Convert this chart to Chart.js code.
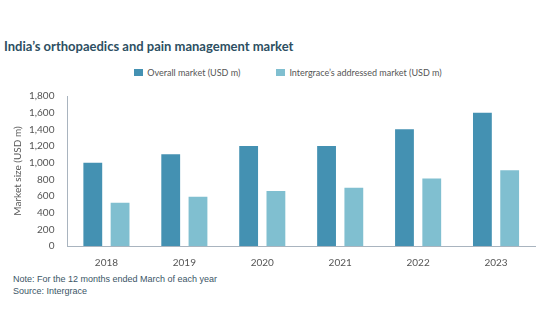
<!DOCTYPE html>
<html>
<head>
<meta charset="utf-8">
<script src="https://cdn.jsdelivr.net/npm/chart.js@4.4.0/dist/chart.umd.min.js"></script>
<style>
    body { margin: 0; background: #fff; }
    #wrap { position: relative; width: 540px; height: 334px; overflow: hidden; }
    #title { position: absolute; left: 4px; top: 38px; font: 700 13px "Lato", sans-serif; color: #2d4f62; white-space: nowrap; }
    #legend { position: absolute; left: 18px; top: 67px; width: 540px; text-align: center; font: 9px "Lato", sans-serif; color: #555; white-space: nowrap; }
    #legend span.item { display: inline-block; margin: 0 18px; }
    #legend span.box { display: inline-block; width: 9px; height: 7px; margin-right: 4px; vertical-align: 0px; }
    #chartBox { position: absolute; left: 0; top: 85px; width: 540px; height: 187px; }
    #notes { position: absolute; left: 13px; top: 273px; font: 9px "Liberation Sans", sans-serif; color: #3b5566; line-height: 12px; }
</style>
</head>
<body>
<div id="wrap">
    <div id="title">India’s orthopaedics and pain management market</div>
    <div id="legend"></div>
    <div id="chartBox"><canvas id="bar"></canvas></div>
    <div id="notes">Note: For the 12 months ended March of each year<br>Source: Intergrace</div>
</div>
<script>
/*
        India's orthopaedics and pain management market, grouped bars.
*/

const years = ["2018", "2019", "2020", "2021", "2022", "2023"];
const overallMarket = [1000, 1100, 1200, 1200, 1400, 1600];
const addressedMarket = [520, 590, 660, 700, 810, 910];
const seriesNames = ["Overall market (USD m)", "Intergrace’s addressed market (USD m)"];
const seriesColors = ["#4491b2", "#80bfd0"];
const yTicks = [0, 200, 400, 600, 800, 1000, 1200, 1400, 1600, 1800];

const tickFont = { family: "Lato", size: 10 };
const axisColor = "#a9b4bf";

// Legend drawn as html, built from the series
const legend = document.getElementById("legend");
for (let i = 0; i < seriesNames.length; i++) {
    const item = document.createElement("span");
    item.className = "item";
    item.innerHTML = '<span class="box" style="background:' + seriesColors[i] + '"></span>' + seriesNames[i];
    legend.appendChild(item);
}

let barchart = document.getElementById("bar").getContext("2d");

new Chart(barchart, {
    type: "bar",
    data: {
        labels: years,
        datasets: [
            {
                label: seriesNames[0],
                data: overallMarket,
                backgroundColor: seriesColors[0],
            },
            {
                label: seriesNames[1],
                data: addressedMarket,
                backgroundColor: seriesColors[1],
            },
        ],
    },
    options: {
        responsive: true,
        maintainAspectRatio: false,
        animation: false,
        categoryPercentage: 0.7,
        barPercentage: 0.69,
        layout: { padding: { left: 12, right: 5, top: 6, bottom: 0 } },
        plugins: {
            legend: { display: false },
            tooltip: { enabled: false },
        },
        scales: {
            x: {
                grid: { display: false },
                border: { color: axisColor, width: 1 },
                ticks: { font: tickFont, color: "#555", padding: 3 },
            },
            y: {
                min: 0,
                max: 1800,
                afterBuildTicks: (axis) => { axis.ticks = yTicks.map((v) => ({ value: v })); },
                grid: { display: false },
                border: { color: axisColor, width: 1 },
                ticks: { font: tickFont, color: "#555", padding: 5 },
                title: {
                    display: true,
                    text: "Market size (USD m)",
                    font: { family: "Lato", size: 10 },
                    color: "#555",
                    padding: { top: 0, bottom: 0 },
                },
            },
        },
    },
});
</script>
</body>
</html>
